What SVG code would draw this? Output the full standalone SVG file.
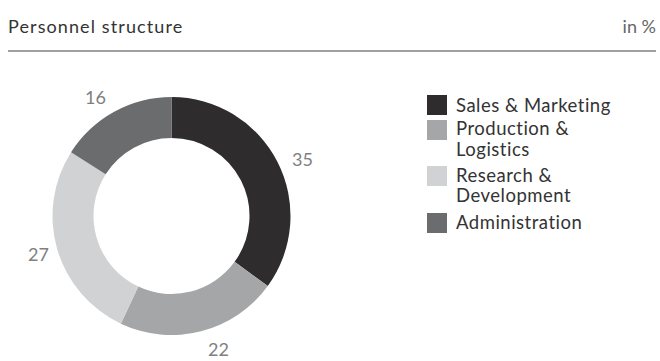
<svg xmlns="http://www.w3.org/2000/svg" width="660" height="361" viewBox="0 0 660 361">
<style>
.t{font-family:Lato,"Open Sans","Liberation Sans",sans-serif;}
.title{font-size:18px;fill:#333;letter-spacing:1.1px;}
.unit{font-size:18px;fill:#666;}
.num{font-size:18px;fill:#808080;}
.leg{font-size:18.5px;fill:#333;letter-spacing:0.5px;}
</style>
<rect width="660" height="361" fill="#fff"/>
<g id="header">
<text class="t title" x="8" y="33">Personnel structure</text>
<text class="t unit" x="656" y="33" text-anchor="end">in %</text>
<line x1="8" y1="51" x2="656" y2="51" stroke="#a0a0a0" stroke-width="2"/>
</g>
<g id="donut">
<path id="seg-sales" fill="#2e2c2d" d="M171.5,97 A119,119 0 0 1 267.77,285.95 L234.6,261.85 A78,78 0 0 0 171.5,138 Z"/>
<path id="seg-prod" fill="#a5a6a8" d="M267.77,285.95 A119,119 0 0 1 120.83,323.67 L138.29,286.57 A78,78 0 0 0 234.6,261.85 Z"/>
<path id="seg-rd" fill="#d1d2d4" d="M120.83,323.67 A119,119 0 0 1 71.03,152.24 L105.64,174.21 A78,78 0 0 0 138.29,286.57 Z"/>
<path id="seg-admin" fill="#6b6c6e" d="M71.03,152.24 A119,119 0 0 1 171.5,97 L171.5,138 A78,78 0 0 0 105.64,174.21 Z"/>
</g>
<g id="labels">
<text class="t num" x="292" y="166">35</text>
<text class="t num" x="208" y="356">22</text>
<text class="t num" x="28" y="261">27</text>
<text class="t num" x="85" y="104">16</text>
</g>
<g id="legend">
<rect x="427" y="95" width="20" height="20" fill="#2e2c2d"/>
<rect x="427" y="120" width="20" height="20" fill="#a5a6a8"/>
<rect x="427" y="166" width="20" height="20" fill="#d1d2d4"/>
<rect x="427" y="213" width="20" height="20" fill="#6b6c6e"/>
<text class="t leg" x="456" y="112">Sales &amp; Marketing</text>
<text class="t leg" x="456" y="135">Production &amp;</text>
<text class="t leg" x="456" y="156">Logistics</text>
<text class="t leg" x="456" y="182">Research &amp;</text>
<text class="t leg" x="456" y="202">Development</text>
<text class="t leg" x="456" y="229">Administration</text>
</g>
</svg>
